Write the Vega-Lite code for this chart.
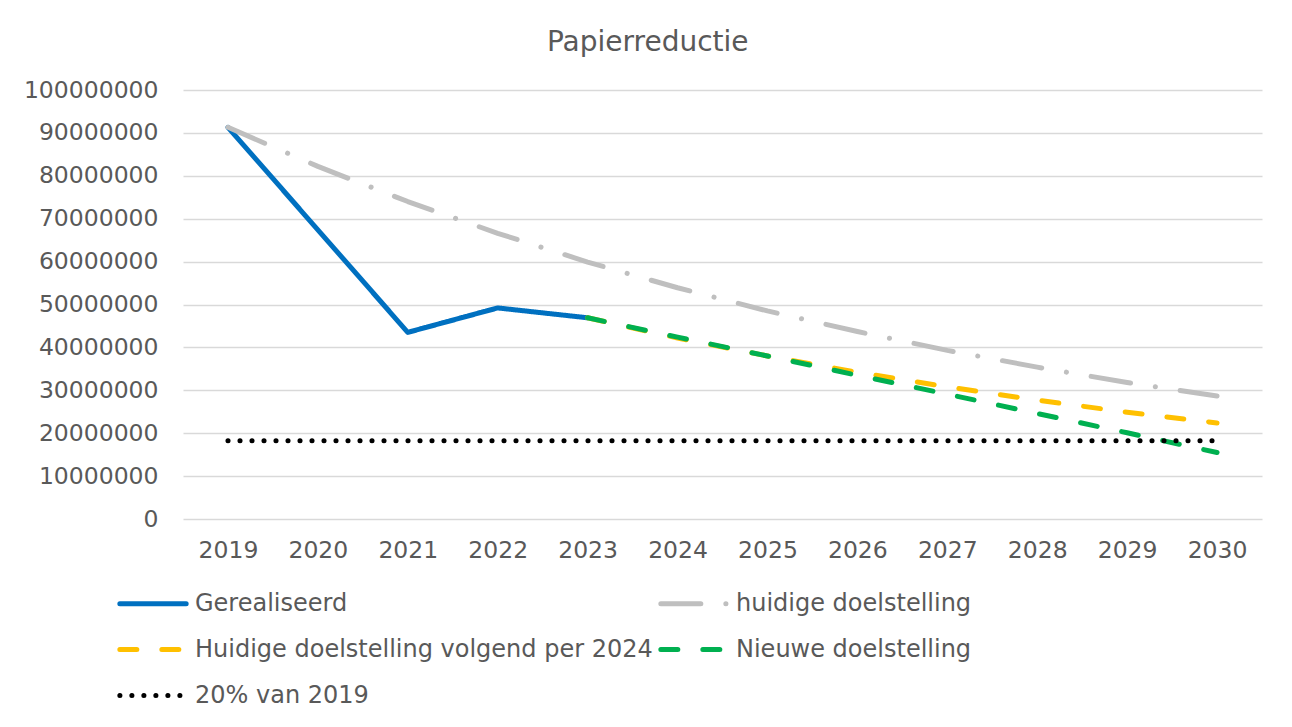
{
  "$schema": "https://vega.github.io/schema/vega-lite/v6.json",
  "width": 1079,
  "height": 429,
  "autosize": {"type": "none"},
  "padding": {"left": 183, "top": 90, "right": 30, "bottom": 208},
  "background": "white",
  "config": {
    "font": "DejaVu Sans",
    "view": {"stroke": null}
  },
  "title": {
    "text": "Papierreductie",
    "fontSize": 28,
    "fontWeight": "normal",
    "color": "#595959",
    "anchor": "middle",
    "frame": "bounds",
    "offset": 21,
    "dx": 5
  },
  "data": {
    "values": [
      {"year": "2019", "series": "Gerealiseerd", "value": 91300000},
      {"year": "2020", "series": "Gerealiseerd", "value": 67400000},
      {"year": "2021", "series": "Gerealiseerd", "value": 43500000},
      {"year": "2022", "series": "Gerealiseerd", "value": 49200000},
      {"year": "2023", "series": "Gerealiseerd", "value": 46900000},
      {"year": "2019", "series": "huidige doelstelling", "value": 91300000},
      {"year": "2020", "series": "huidige doelstelling", "value": 82200000},
      {"year": "2021", "series": "huidige doelstelling", "value": 74000000},
      {"year": "2022", "series": "huidige doelstelling", "value": 66600000},
      {"year": "2023", "series": "huidige doelstelling", "value": 59900000},
      {"year": "2024", "series": "huidige doelstelling", "value": 53900000},
      {"year": "2025", "series": "huidige doelstelling", "value": 48500000},
      {"year": "2026", "series": "huidige doelstelling", "value": 43700000},
      {"year": "2027", "series": "huidige doelstelling", "value": 39300000},
      {"year": "2028", "series": "huidige doelstelling", "value": 35400000},
      {"year": "2029", "series": "huidige doelstelling", "value": 31800000},
      {"year": "2030", "series": "huidige doelstelling", "value": 28650000},
      {"year": "2023", "series": "Huidige doelstelling volgend per 2024", "value": 46900000},
      {"year": "2024", "series": "Huidige doelstelling volgend per 2024", "value": 42200000},
      {"year": "2025", "series": "Huidige doelstelling volgend per 2024", "value": 38000000},
      {"year": "2026", "series": "Huidige doelstelling volgend per 2024", "value": 34200000},
      {"year": "2027", "series": "Huidige doelstelling volgend per 2024", "value": 30800000},
      {"year": "2028", "series": "Huidige doelstelling volgend per 2024", "value": 27700000},
      {"year": "2029", "series": "Huidige doelstelling volgend per 2024", "value": 24900000},
      {"year": "2030", "series": "Huidige doelstelling volgend per 2024", "value": 22400000},
      {"year": "2023", "series": "Nieuwe doelstelling", "value": 46900000},
      {"year": "2024", "series": "Nieuwe doelstelling", "value": 42400000},
      {"year": "2025", "series": "Nieuwe doelstelling", "value": 38000000},
      {"year": "2026", "series": "Nieuwe doelstelling", "value": 33500000},
      {"year": "2027", "series": "Nieuwe doelstelling", "value": 29100000},
      {"year": "2028", "series": "Nieuwe doelstelling", "value": 24600000},
      {"year": "2029", "series": "Nieuwe doelstelling", "value": 20100000},
      {"year": "2030", "series": "Nieuwe doelstelling", "value": 15500000},
      {"year": "2019", "series": "20% van 2019", "value": 18260000},
      {"year": "2020", "series": "20% van 2019", "value": 18260000},
      {"year": "2021", "series": "20% van 2019", "value": 18260000},
      {"year": "2022", "series": "20% van 2019", "value": 18260000},
      {"year": "2023", "series": "20% van 2019", "value": 18260000},
      {"year": "2024", "series": "20% van 2019", "value": 18260000},
      {"year": "2025", "series": "20% van 2019", "value": 18260000},
      {"year": "2026", "series": "20% van 2019", "value": 18260000},
      {"year": "2027", "series": "20% van 2019", "value": 18260000},
      {"year": "2028", "series": "20% van 2019", "value": 18260000},
      {"year": "2029", "series": "20% van 2019", "value": 18260000},
      {"year": "2030", "series": "20% van 2019", "value": 18260000}
    ]
  },
  "mark": {"type": "line", "strokeWidth": 5, "strokeCap": "round", "strokeJoin": "round"},
  "encoding": {
    "x": {
      "field": "year",
      "type": "ordinal",
      "scale": {"type": "point", "padding": 0.5},
      "axis": {
        "title": null,
        "labelAngle": 0,
        "labelFontSize": 23.5,
        "labelColor": "#595959",
        "labelPadding": 19,
        "ticks": false,
        "tickSize": 0,
        "domain": false,
        "grid": false
      }
    },
    "y": {
      "field": "value",
      "type": "quantitative",
      "scale": {"domain": [0, 100000000], "nice": false},
      "axis": {
        "title": null,
        "values": [0, 10000000, 20000000, 30000000, 40000000, 50000000, 60000000, 70000000, 80000000, 90000000, 100000000],
        "format": "d",
        "labelFontSize": 23.5,
        "labelColor": "#595959",
        "labelPadding": 25,
        "ticks": false,
        "tickSize": 0,
        "domain": false,
        "grid": true,
        "gridColor": "#D9D9D9",
        "gridWidth": 1.5
      }
    },
    "color": {
      "field": "series",
      "type": "nominal",
      "scale": {
        "domain": ["Gerealiseerd", "huidige doelstelling", "Huidige doelstelling volgend per 2024", "Nieuwe doelstelling", "20% van 2019"],
        "range": ["#0070C0", "#BFBFBF", "#FFC000", "#00B050", "#000000"]
      },
      "legend": {
        "title": null,
        "orient": "none",
        "legendX": -66,
        "legendY": 502,
        "direction": "horizontal",
        "columns": 2,
        "columnPadding": 5,
        "rowPadding": 21,
        "padding": 0,
        "clipHeight": 23,
        "symbolType": "stroke",
        "symbolSize": 4400,
        "symbolStrokeWidth": 5,
        "labelFontSize": 24,
        "labelColor": "#595959",
        "labelOffset": 6,
        "labelLimit": 600,
        "encode": {"symbols": {"update": {"strokeCap": {"value": "round"}}}}
      }
    },
    "strokeDash": {
      "field": "series",
      "type": "nominal",
      "scale": {
        "domain": ["Gerealiseerd", "huidige doelstelling", "Huidige doelstelling volgend per 2024", "Nieuwe doelstelling", "20% van 2019"],
        "range": [[1, 0], [40, 25, 0.1, 25], [17, 25], [17, 25], [0.1, 11.9]]
      },
      "legend": null
    }
  }
}
